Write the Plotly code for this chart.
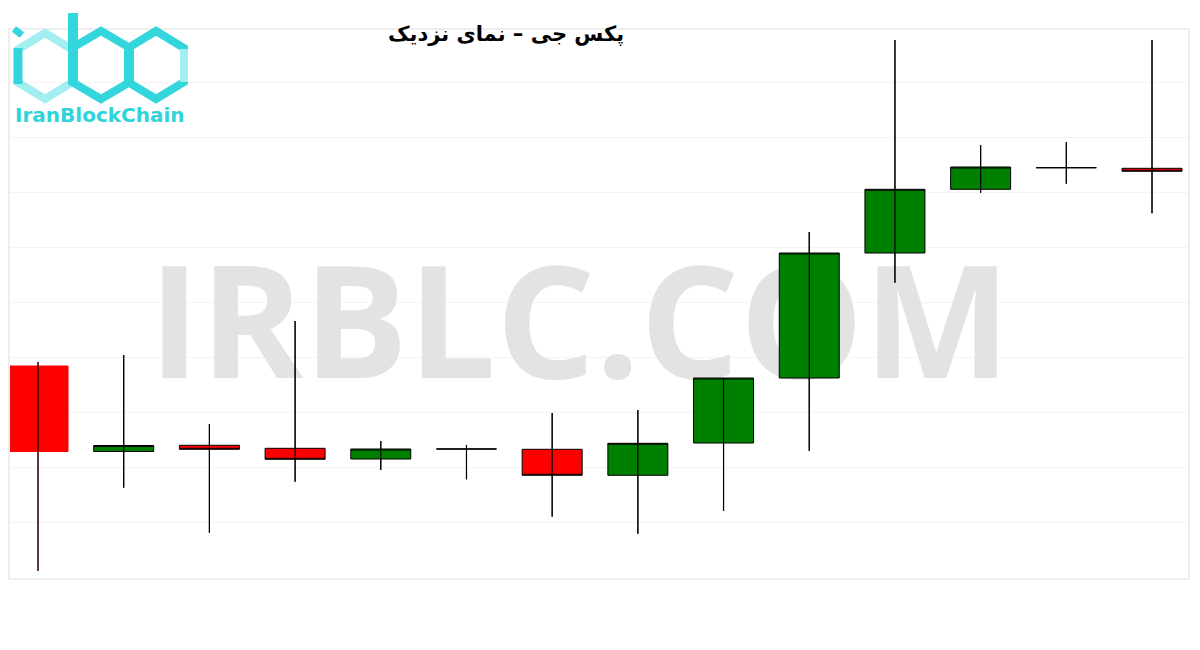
import plotly.graph_objects as go

# ---- data (price units) ----
candles = list(range(14))
opens  = [234.0, 148.5, 154.7, 151.7, 141.0, 151.0, 150.7, 124.7, 157.0, 222.0, 347.0, 410.7, 432.3, 431.7]
highs  = [238.0, 245.0, 176.0, 279.0, 159.0, 155.0, 187.0, 190.0, 222.0, 368.0, 560.0, 455.0, 458.0, 560.0]
lows   = [29.0, 112.3, 67.3, 118.3, 130.0, 120.7, 83.3, 66.3, 89.0, 149.0, 317.3, 407.3, 416.3, 386.7]
closes = [148.5, 154.5, 150.7, 140.7, 151.0, 151.0, 124.7, 156.7, 222.0, 347.0, 410.7, 433.0, 432.3, 428.7]

title_text = "پکس جی – نمای نزدیک"
watermark_text = "IRBLC.COM"
logo_text = "IranBlockChain"

W, H = 1200, 650
OFF = 8  # page body margin
ML, MR, MT, MB = 10 - OFF, 20, 30 - OFF, 80
X_RANGE = [-0.327, 13.42]
Y_RANGE = [22, 570]


def px(x):
    # page pixel -> paper
    return (x - OFF - ML) / (W - ML - MR)


def py(y):
    return (H - MB - (y - OFF)) / (H - MT - MB)


fig = go.Figure()

# watermark on the base axes (drawn beneath the overlay axes)
fig.add_trace(go.Scatter(
    x=[6.32], y=[261], mode="text", text=[watermark_text],
    textfont=dict(family="Open Sans", size=156, color="#e3e3e3", weight="bold"),
    hoverinfo="skip", showlegend=False, xaxis="x", yaxis="y"))

# first candle (no outline)
fig.add_trace(go.Candlestick(
    x=candles[:1], open=opens[:1], high=highs[:1], low=lows[:1], close=closes[:1],
    increasing=dict(fillcolor="#008000", line=dict(color="#008000", width=1)),
    decreasing=dict(fillcolor="#ff0000", line=dict(color="#ff0000", width=1)),
    showlegend=False, xaxis="x2", yaxis="y2"))

fig.add_trace(go.Candlestick(
    x=candles[1:], open=opens[1:], high=highs[1:], low=lows[1:], close=closes[1:],
    increasing=dict(fillcolor="#008000", line=dict(color="#000000", width=1)),
    decreasing=dict(fillcolor="#ff0000", line=dict(color="#000000", width=1)),
    showlegend=False, xaxis="x2", yaxis="y2"))

# wicks drawn through the bodies
wx, wy = [], []
for i, lo, hi in zip(candles, lows, highs):
    wx += [i, i, None]
    wy += [lo, hi, None]
fig.add_trace(go.Scatter(x=wx, y=wy, mode="lines", line=dict(color="#000000", width=1.2),
                         hoverinfo="skip", showlegend=False, xaxis="x2", yaxis="y2"))

# logo shapes
def hexpath(cx, cy, rx, ry):
    pts = [(cx, cy - ry), (cx + rx, cy - ry / 2), (cx + rx, cy + ry / 2),
           (cx, cy + ry), (cx - rx, cy + ry / 2), (cx - rx, cy - ry / 2)]
    return "M " + " L ".join(f"{px(a):.5f},{py(b):.5f}" for a, b in pts) + " Z"

shapes = []
cyan = "#33d6dc"
light = "#a3eef0"
shapes.append(dict(type="path", path=hexpath(45, 66, 27, 33), xref="paper", yref="paper",
                   line=dict(color=light, width=8), layer="above"))
shapes.append(dict(type="path", path=hexpath(101, 65, 29, 34), xref="paper", yref="paper",
                   line=dict(color=cyan, width=8), layer="above"))
shapes.append(dict(type="path", path=hexpath(156, 65, 28, 34), xref="paper", yref="paper",
                   line=dict(color=cyan, width=8), layer="above"))
shapes.append(dict(type="line", x0=px(184), x1=px(184), y0=py(49), y1=py(82), xref="paper", yref="paper",
                   line=dict(color=light, width=8), layer="above"))
# b stem
shapes.append(dict(type="line", x0=px(73), x1=px(73), y0=py(13), y1=py(82), xref="paper", yref="paper",
                   line=dict(color=cyan, width=10), layer="above"))
# i left bar + dot
shapes.append(dict(type="line", x0=px(18), x1=px(18), y0=py(48), y1=py(84), xref="paper", yref="paper",
                   line=dict(color=cyan, width=9), layer="above"))
shapes.append(dict(type="line", x0=px(14), x1=px(22), y0=py(29), y1=py(35), xref="paper", yref="paper",
                   line=dict(color=cyan, width=7), layer="above"))

axis_common = dict(showticklabels=False, zeroline=False, fixedrange=True)

fig.update_layout(
    width=W, height=H,
    margin=dict(l=ML, r=MR, t=MT, b=MB),
    paper_bgcolor="white", plot_bgcolor="white",
    showlegend=False,
    boxgap=0,
    shapes=shapes,
    xaxis=dict(range=X_RANGE, showgrid=False, showline=True, mirror=True,
               linecolor="#eeeeee", linewidth=2, **axis_common),
    yaxis=dict(range=Y_RANGE, showgrid=True, gridcolor="#f4f4f4", gridwidth=1.2,
               tick0=78, dtick=55, showline=True, mirror=True,
               linecolor="#eeeeee", linewidth=2, **axis_common),
    xaxis2=dict(range=X_RANGE, overlaying="x", showgrid=False, showline=False,
                rangeslider=dict(visible=False), **axis_common),
    yaxis2=dict(range=Y_RANGE, overlaying="y", showgrid=False, showline=False, **axis_common),
    annotations=[
        dict(text="<b>" + title_text + "</b>", xref="paper", yref="paper",
             x=px(506), y=py(34), xanchor="center", yanchor="middle", showarrow=False,
             font=dict(family="DejaVu Sans", size=21, color="#000000")),
        dict(text="<b>" + logo_text + "</b>", xref="paper", yref="paper",
             x=px(100), y=py(115), xanchor="center", yanchor="middle", showarrow=False,
             font=dict(family="DejaVu Sans", size=20, color="#2fd4da")),
    ],
)

fig.write_html("out.html")
